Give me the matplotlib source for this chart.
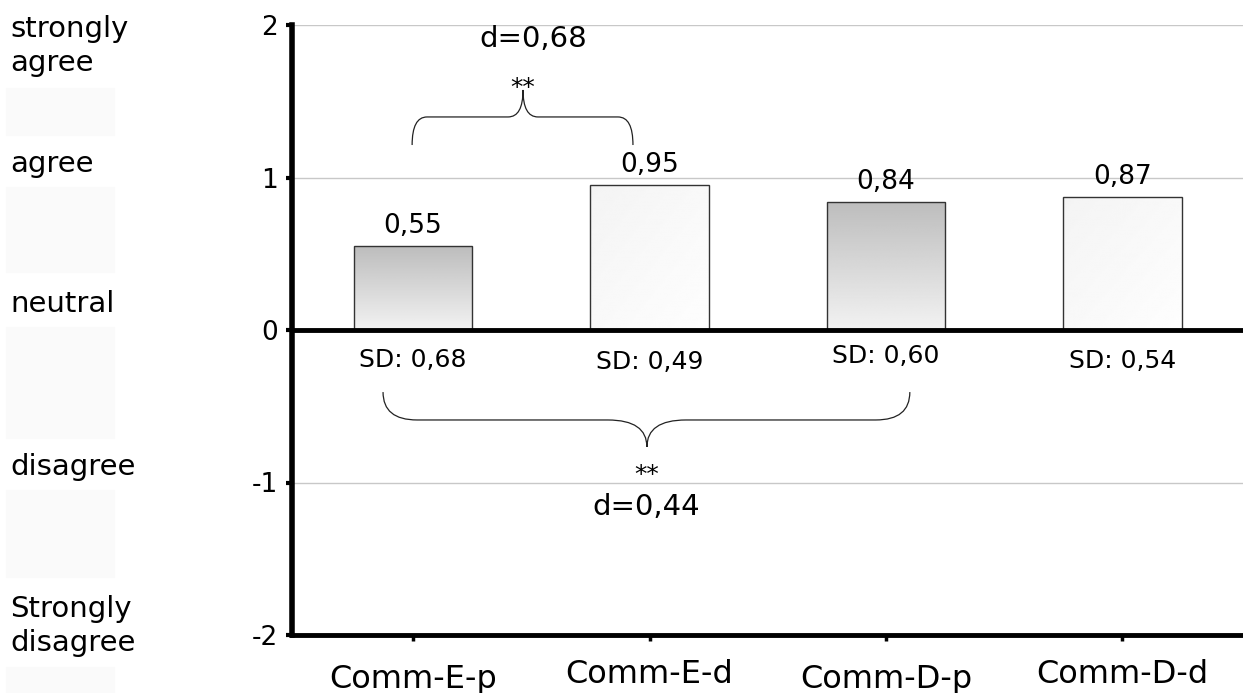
import matplotlib
matplotlib.use("Agg")
import matplotlib.pyplot as plt
import matplotlib.transforms as mtransforms
from matplotlib.patches import Rectangle, PathPatch
from matplotlib.path import Path
import numpy as np

# datos
categorias = ["Comm-E-p", "Comm-E-d", "Comm-D-p", "Comm-D-d"]
medias = [0.55, 0.95, 0.84, 0.87]
sd = [0.68, 0.49, 0.60, 0.54]
escala = ["strongly\nagree", "agree", "neutral", "disagree", "Strongly\ndisagree"]
yticks = [-2, -1, 0, 1, 2]


def coma(v):
    return f"{v:.2f}".replace(".", ",")


fig = plt.figure(figsize=(12.43, 6.93), dpi=100)
W, H = 1243, 693
ax = fig.add_axes([292 / W, 58 / H, 951 / W, 610 / H])

# cajas grises muy claras a la izquierda
for y0, y1 in [(88, 135), (187, 272), (327, 438), (490, 577), (667, 693)]:
    fig.patches.append(Rectangle((6 / W, 1 - y1 / H), 108 / W, (y1 - y0) / H,
                                 transform=fig.transFigure, color="#fafafa", zorder=0))

# etiquetas de la escala
for txt, yc in zip(escala, [46, 164, 304, 467, 626]):
    fig.text(10 / W, 1 - yc / H, txt, fontsize=21, va="center", ha="left",
             linespacing=1.25)

x = np.arange(len(categorias))
bars = ax.bar(x, medias, width=0.5, facecolor="none", edgecolor="#333333",
              linewidth=1, zorder=4)

# degradado en las barras
for i, b in enumerate(bars):
    bx, by, bw, bh = b.get_x(), b.get_y(), b.get_width(), b.get_height()
    if i % 2 == 0:
        g = np.linspace(0.74, 0.95, 200).reshape(-1, 1)
    else:
        g = 0.955 + np.add.outer(np.linspace(0, 0.02, 200), np.linspace(0, 0.02, 50))
    im = ax.imshow(g, extent=[bx, bx + bw, by, by + bh], origin="upper",
                   cmap="gray", vmin=0, vmax=1, aspect="auto", zorder=3)
    im.set_clip_path(b)

# valores encima
for xi, v in zip(x, medias):
    ax.annotate(coma(v), (xi, v), xytext=(0, 9.5), textcoords="offset points",
                ha="center", va="baseline", fontsize=19)

# SD debajo
sd_y = [-0.243, -0.256, -0.216, -0.25]
for xi, s, yy in zip(x, sd, sd_y):
    ax.text(xi, yy, "SD: " + coma(s), ha="center", va="baseline", fontsize=18)


def llave(x0, x1, xm, y_end, y_mid, y_tip, r, t):
    verts = [(x0, y_end), (x0, y_mid), (x0 + r, y_mid),
             (xm - t, y_mid),
             (xm, y_mid), (xm, y_tip),
             (xm, y_mid), (xm + t, y_mid),
             (x1 - r, y_mid),
             (x1, y_mid), (x1, y_end)]
    codes = [Path.MOVETO, Path.CURVE3, Path.CURVE3,
             Path.LINETO,
             Path.CURVE3, Path.CURVE3,
             Path.MOVETO, Path.CURVE3,
             Path.LINETO,
             Path.CURVE3, Path.CURVE3]
    # el segundo tramo parte del pico
    verts[6] = (xm, y_tip)
    codes[6] = Path.MOVETO
    verts.insert(7, (xm, y_mid))
    codes.insert(7, Path.CURVE3)
    p = PathPatch(Path(verts, codes), facecolor="none", edgecolor="#222222",
                  linewidth=0.9, zorder=5, clip_on=False)
    ax.add_patch(p)


llave(-0.004, 0.930, 0.465, 1.213, 1.397, 1.574, 0.063, 0.063)
ax.text(0.465, 1.54, "**", ha="center", va="baseline", fontsize=18)
ax.text(0.507, 1.856, "d=0,68", ha="center", va="baseline", fontsize=21)

llave(-0.127, 2.101, 0.989, -0.407, -0.590, -0.767, 0.144, 0.165)
ax.text(0.989, -0.997, "**", ha="center", va="baseline", fontsize=18)
ax.text(0.985, -1.213, "d=0,44", ha="center", va="baseline", fontsize=21)

ax.axhline(0, color="black", linewidth=3.5, zorder=6)
ax.set_xlim(-0.512, 3.51)
ax.set_ylim(-2, 2)
ax.set_yticks(yticks)
ax.set_yticklabels([str(v) for v in yticks])
ax.set_xticks(x)
ax.set_xticklabels(categorias)
ax.yaxis.grid(True, color="#c8c8c8", linewidth=1)
ax.set_axisbelow(True)

for s in ["top", "right"]:
    ax.spines[s].set_visible(False)
ax.spines["left"].set_linewidth(4)
ax.spines["bottom"].set_linewidth(3.5)
ax.tick_params(axis="y", direction="out", length=4, width=3, pad=6, labelsize=19)
ax.tick_params(axis="x", direction="out", length=4, width=2.5, pad=13, labelsize=23)

baja = mtransforms.ScaledTranslation(0, -5 / 100, fig.dpi_scale_trans)
for i, lab in enumerate(ax.get_xticklabels()):
    if i % 2 == 0:
        lab.set_transform(lab.get_transform() + baja)

fig.savefig("out.png", dpi=100)
